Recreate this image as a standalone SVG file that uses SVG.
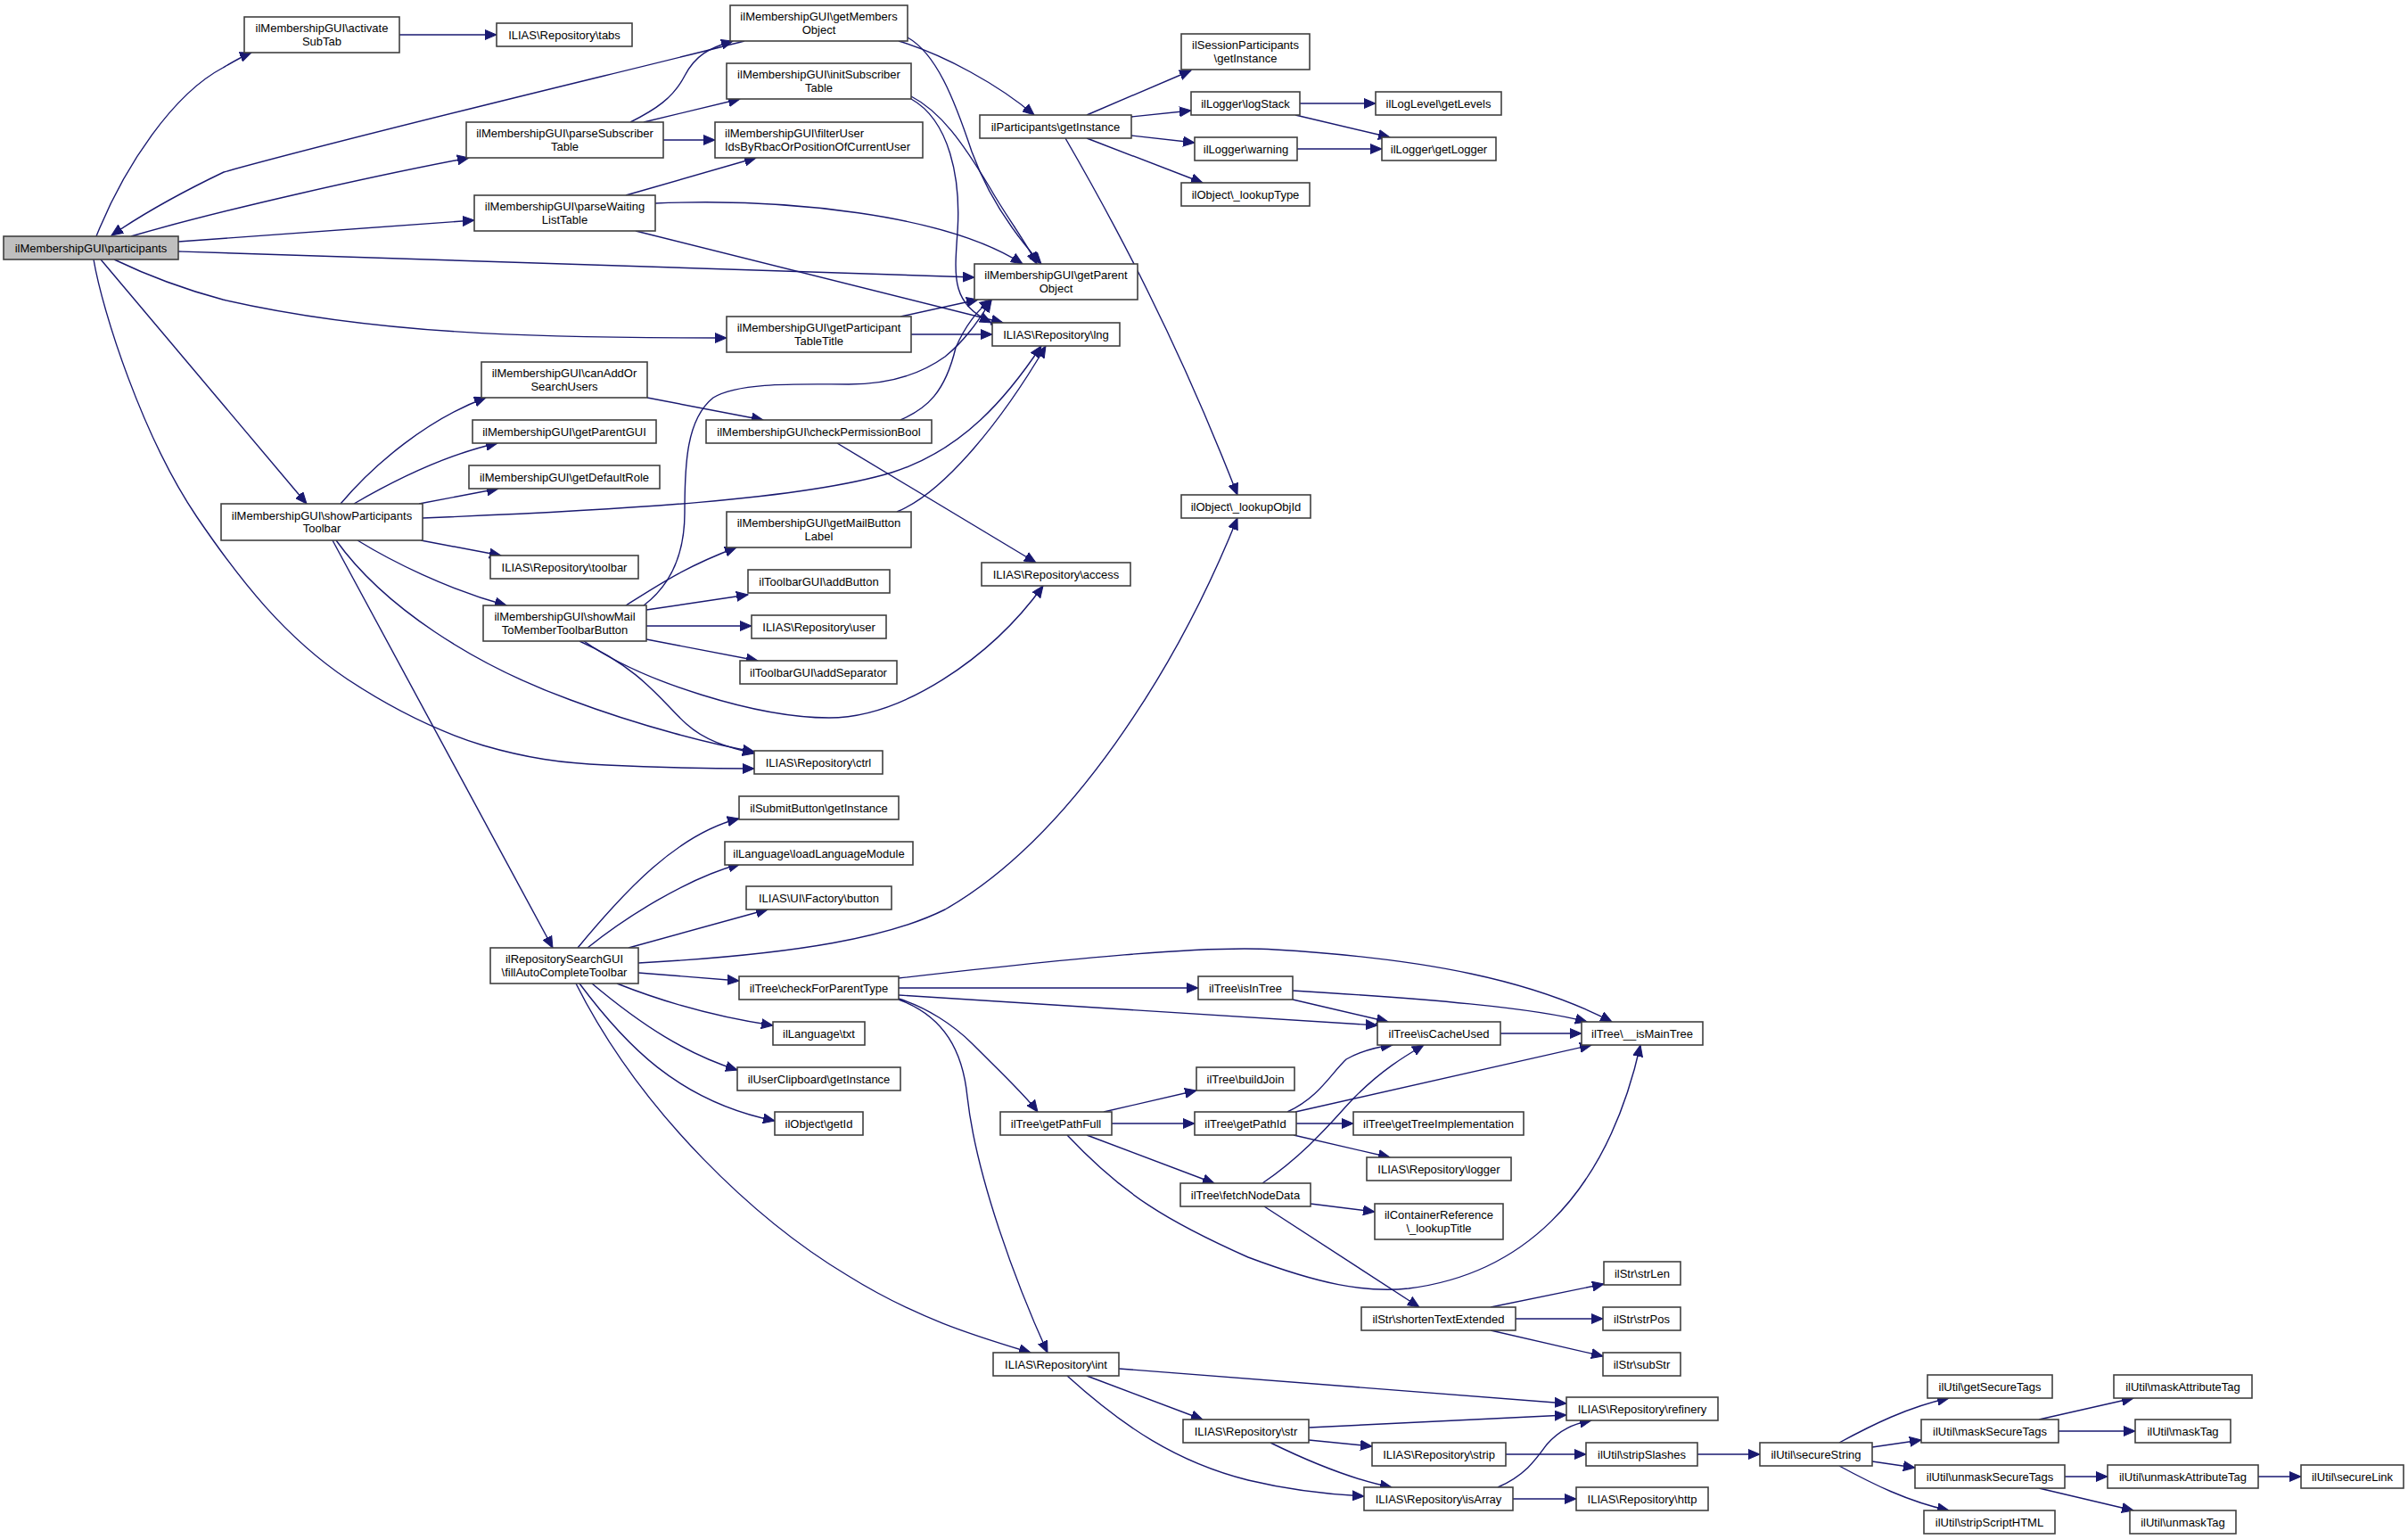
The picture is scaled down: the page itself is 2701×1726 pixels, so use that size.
<svg xmlns="http://www.w3.org/2000/svg" width="2701" height="1726" viewBox="0 0 2701 1726">
<style>
.n rect{fill:#ffffff;stroke:#404040;stroke-width:1.6}
.n.main rect{fill:#bfbfbf}
.n text{font-family:"Liberation Sans",Arial,sans-serif;font-size:13px;fill:#000;text-anchor:middle}
.n text.l{text-anchor:start}
.e path{fill:none;stroke:#191970;stroke-width:1.4;marker-end:url(#arr)}
</style>
<defs>
<marker id="arr" markerUnits="userSpaceOnUse" viewBox="0 0 14 12" markerWidth="14" markerHeight="12" refX="13" refY="6" orient="auto">
<path d="M0,0.5 L13,6 L0,11.5 z" fill="#191970" stroke="#191970" stroke-width="1"/>
</marker>
</defs>
<rect width="2701" height="1726" fill="#ffffff"/>
<g id="edges" class="e">
<path d="M108,265 C140,185 195,105 250,76 C262,69 272,63 282,59"/>
<path d="M835,46 C760,66 420,146 251,193 C205,215 160,240 125,264"/>
<path d="M147,265 C250,235 420,197 526,177"/>
<path d="M200,271 L532,247"/>
<path d="M200,282 C500,292 800,303 1093,311"/>
<path d="M128,291 C180,316 220,328 250,336 C420,375 600,379 815,379"/>
<path d="M113,291 L344,565"/>
<path d="M105,291 C115,350 160,490 221,580 C270,652 320,715 390,762 C440,795 490,820 542,836 C590,850 630,856 680,858 C740,861 800,862 846,862"/>
<path d="M448,39 L557,39"/>
<path d="M707,137 C735,123 755,110 768,85 C780,62 795,54 822,46"/>
<path d="M722,137 L830,111"/>
<path d="M744,157 L802,157"/>
<path d="M702,219 L848,177"/>
<path d="M735,228 C880,222 1060,240 1147,296"/>
<path d="M713,259 L1125,362"/>
<path d="M1008,46 C1060,62 1120,95 1160,129"/>
<path d="M1018,42 C1050,60 1070,110 1090,170 C1110,225 1140,265 1168,296"/>
<path d="M1022,108 C1055,125 1080,160 1110,210 C1130,245 1150,270 1163,296"/>
<path d="M1022,111 C1065,135 1078,200 1074,260 C1070,315 1068,340 1112,362"/>
<path d="M1010,355 L1097,336"/>
<path d="M1022,375 L1113,375"/>
<path d="M382,565 C420,520 480,470 545,446"/>
<path d="M397,565 C440,540 500,510 558,497"/>
<path d="M470,565 L559,548"/>
<path d="M474,581 C700,572 900,560 1000,530 C1080,505 1130,445 1168,388"/>
<path d="M472,606 L562,623"/>
<path d="M401,606 C440,630 500,660 568,679"/>
<path d="M377,606 C430,680 530,745 640,785 C720,815 800,835 846,843"/>
<path d="M373,606 L620,1063"/>
<path d="M726,446 L856,471"/>
<path d="M1010,471 C1040,458 1060,440 1072,390 C1085,360 1100,345 1112,336"/>
<path d="M939,497 L1162,631"/>
<path d="M1006,574 C1060,552 1125,470 1173,388"/>
<path d="M722,679 C760,650 768,610 768,575 C768,520 770,470 800,446 C830,428 900,431 952,431 C1000,431 1035,418 1060,400 C1085,380 1100,355 1112,337"/>
<path d="M702,679 C740,655 770,635 826,614"/>
<path d="M725,684 L839,667"/>
<path d="M725,702 L843,702"/>
<path d="M725,717 L850,741"/>
<path d="M655,719 C720,765 850,805 930,805 C1010,805 1110,740 1170,657"/>
<path d="M650,719 C720,750 745,790 770,812 C790,830 815,838 846,845"/>
<path d="M1219,129 L1336,79"/>
<path d="M1269,131 L1336,124"/>
<path d="M1269,152 L1340,160"/>
<path d="M1219,155 L1349,205"/>
<path d="M1195,155 C1250,250 1320,380 1388,555"/>
<path d="M1458,116 L1543,116"/>
<path d="M1453,129 L1559,154"/>
<path d="M1455,167 L1550,167"/>
<path d="M648,1063 C700,1000 760,935 829,918"/>
<path d="M659,1063 C700,1030 770,985 830,969"/>
<path d="M705,1063 L861,1020"/>
<path d="M716,1080 C900,1070 1000,1050 1060,1020 C1200,940 1320,750 1388,581"/>
<path d="M716,1091 L829,1100"/>
<path d="M692,1103 C760,1130 820,1143 867,1150"/>
<path d="M664,1103 C720,1150 770,1182 827,1200"/>
<path d="M650,1103 C700,1170 760,1235 869,1257"/>
<path d="M646,1103 C720,1250 850,1370 950,1430 C1030,1480 1100,1500 1156,1517"/>
<path d="M1008,1097 C1200,1075 1350,1060 1430,1065 C1600,1075 1720,1100 1808,1146"/>
<path d="M1008,1108 L1344,1108"/>
<path d="M1008,1116 L1545,1150"/>
<path d="M1008,1120 C1040,1130 1070,1150 1090,1170 C1120,1200 1150,1228 1164,1247"/>
<path d="M1008,1121 C1060,1140 1080,1180 1085,1230 C1095,1320 1140,1440 1175,1517"/>
<path d="M1450,1121 L1557,1146"/>
<path d="M1450,1111 C1600,1120 1720,1130 1780,1146"/>
<path d="M1683,1159 L1774,1159"/>
<path d="M1238,1247 L1342,1223"/>
<path d="M1247,1260 L1340,1260"/>
<path d="M1219,1273 L1362,1327"/>
<path d="M1197,1273 C1260,1340 1310,1370 1400,1410 C1480,1440 1530,1450 1580,1445 C1700,1430 1800,1350 1840,1172"/>
<path d="M1444,1247 C1480,1230 1492,1205 1510,1188 C1528,1178 1545,1174 1562,1172"/>
<path d="M1453,1247 L1785,1172"/>
<path d="M1454,1260 L1518,1260"/>
<path d="M1451,1273 L1559,1298"/>
<path d="M1416,1327 C1470,1290 1500,1250 1520,1230 C1550,1200 1575,1185 1597,1172"/>
<path d="M1470,1350 L1542,1359"/>
<path d="M1418,1353 L1592,1466"/>
<path d="M1672,1466 L1799,1440"/>
<path d="M1700,1479 L1798,1479"/>
<path d="M1672,1492 L1798,1521"/>
<path d="M1255,1535 L1757,1574"/>
<path d="M1219,1543 L1349,1592"/>
<path d="M1197,1543 C1260,1600 1320,1640 1400,1660 C1450,1672 1490,1676 1530,1678"/>
<path d="M1468,1601 L1757,1587"/>
<path d="M1468,1615 L1539,1622"/>
<path d="M1425,1618 C1470,1640 1520,1660 1561,1668"/>
<path d="M1689,1631 L1779,1631"/>
<path d="M1680,1668 C1710,1655 1722,1638 1735,1620 C1750,1603 1765,1597 1785,1593"/>
<path d="M1697,1681 L1768,1681"/>
<path d="M1904,1631 L1974,1631"/>
<path d="M2063,1618 C2100,1598 2140,1578 2186,1568"/>
<path d="M2100,1623 L2155,1615"/>
<path d="M2100,1639 L2148,1646"/>
<path d="M2063,1644 C2100,1664 2140,1684 2186,1694"/>
<path d="M2287,1592 L2393,1568"/>
<path d="M2309,1605 L2395,1605"/>
<path d="M2316,1656 L2364,1656"/>
<path d="M2287,1669 L2393,1694"/>
<path d="M2533,1656 L2581,1656"/>
</g>
<g id="nodes">
<g id="n-participants" class="n main"><rect x="4" y="265" width="196" height="26"/><text x="102" y="282.5">ilMembershipGUI\participants</text></g>
<g id="n-activateSubTab" class="n"><rect x="274" y="19" width="174" height="40"/><text x="361" y="36">ilMembershipGUI\activate</text><text x="361" y="50.5">SubTab</text></g>
<g id="n-tabs" class="n"><rect x="557" y="26" width="152" height="26"/><text x="633" y="43.5">ILIAS\Repository\tabs</text></g>
<g id="n-parseSubscriberTable" class="n"><rect x="523" y="137" width="221" height="40"/><text x="633.5" y="154">ilMembershipGUI\parseSubscriber</text><text x="633.5" y="168.5">Table</text></g>
<g id="n-parseWaitingListTable" class="n"><rect x="532" y="219" width="203" height="40"/><text x="633.5" y="236">ilMembershipGUI\parseWaiting</text><text x="633.5" y="250.5">ListTable</text></g>
<g id="n-canAddOrSearchUsers" class="n"><rect x="540" y="406" width="186" height="40"/><text x="633" y="423">ilMembershipGUI\canAddOr</text><text x="633" y="437.5">SearchUsers</text></g>
<g id="n-getParentGUI" class="n"><rect x="530" y="471" width="206" height="26"/><text x="633" y="488.5">ilMembershipGUI\getParentGUI</text></g>
<g id="n-getDefaultRole" class="n"><rect x="526" y="522" width="214" height="26"/><text x="633" y="539.5">ilMembershipGUI\getDefaultRole</text></g>
<g id="n-showParticipantsToolbar" class="n"><rect x="248" y="565" width="226" height="41"/><text x="361" y="582.5">ilMembershipGUI\showParticipants</text><text x="361" y="597">Toolbar</text></g>
<g id="n-getMembersObject" class="n"><rect x="819" y="6" width="199" height="40"/><text x="918.5" y="23">ilMembershipGUI\getMembers</text><text x="918.5" y="37.5">Object</text></g>
<g id="n-initSubscriberTable" class="n"><rect x="815" y="71" width="207" height="40"/><text x="918.5" y="88">ilMembershipGUI\initSubscriber</text><text x="918.5" y="102.5">Table</text></g>
<g id="n-filterUser" class="n"><rect x="802" y="137" width="233" height="40"/><text class="l" x="813" y="154">ilMembershipGUI\filterUser</text><text class="l" x="813" y="168.5">IdsByRbacOrPositionOfCurrentUser</text></g>
<g id="n-participantsGetInstance" class="n"><rect x="1099" y="129" width="170" height="26"/><text x="1184" y="146.5">ilParticipants\getInstance</text></g>
<g id="n-getParentObject" class="n"><rect x="1093" y="296" width="183" height="40"/><text x="1184.5" y="313">ilMembershipGUI\getParent</text><text x="1184.5" y="327.5">Object</text></g>
<g id="n-lng" class="n"><rect x="1113" y="362" width="143" height="26"/><text x="1184.5" y="379.5">ILIAS\Repository\lng</text></g>
<g id="n-getParticipantTableTitle" class="n"><rect x="815" y="355" width="207" height="40"/><text x="918.5" y="372">ilMembershipGUI\getParticipant</text><text x="918.5" y="386.5">TableTitle</text></g>
<g id="n-checkPermissionBool" class="n"><rect x="792" y="471" width="253" height="26"/><text x="918.5" y="488.5">ilMembershipGUI\checkPermissionBool</text></g>
<g id="n-getMailButtonLabel" class="n"><rect x="815" y="574" width="207" height="40"/><text x="918.5" y="591">ilMembershipGUI\getMailButton</text><text x="918.5" y="605.5">Label</text></g>
<g id="n-sessionParticipants" class="n"><rect x="1325" y="38" width="144" height="40"/><text x="1397" y="55">ilSessionParticipants</text><text x="1397" y="69.5">\getInstance</text></g>
<g id="n-logStack" class="n"><rect x="1336" y="103" width="122" height="26"/><text x="1397" y="120.5">ilLogger\logStack</text></g>
<g id="n-warning" class="n"><rect x="1340" y="154" width="115" height="26"/><text x="1397.5" y="171.5">ilLogger\warning</text></g>
<g id="n-lookupType" class="n"><rect x="1325" y="205" width="144" height="26"/><text x="1397" y="222.5">ilObject\_lookupType</text></g>
<g id="n-getLevels" class="n"><rect x="1543" y="103" width="141" height="26"/><text x="1613.5" y="120.5">ilLogLevel\getLevels</text></g>
<g id="n-getLogger" class="n"><rect x="1550" y="154" width="128" height="26"/><text x="1614" y="171.5">ilLogger\getLogger</text></g>
<g id="n-lookupObjId" class="n"><rect x="1325" y="555" width="145" height="26"/><text x="1397.5" y="572.5">ilObject\_lookupObjId</text></g>
<g id="n-toolbar" class="n"><rect x="550" y="623" width="166" height="26"/><text x="633" y="640.5">ILIAS\Repository\toolbar</text></g>
<g id="n-showMailToMemberToolbarButton" class="n"><rect x="542" y="679" width="183" height="40"/><text x="633.5" y="696">ilMembershipGUI\showMail</text><text x="633.5" y="710.5">ToMemberToolbarButton</text></g>
<g id="n-addButton" class="n"><rect x="839" y="639" width="159" height="26"/><text x="918.5" y="656.5">ilToolbarGUI\addButton</text></g>
<g id="n-user" class="n"><rect x="843" y="690" width="151" height="26"/><text x="918.5" y="707.5">ILIAS\Repository\user</text></g>
<g id="n-addSeparator" class="n"><rect x="830" y="741" width="176" height="26"/><text x="918" y="758.5">ilToolbarGUI\addSeparator</text></g>
<g id="n-access" class="n"><rect x="1101" y="631" width="167" height="26"/><text x="1184.5" y="648.5">ILIAS\Repository\access</text></g>
<g id="n-ctrl" class="n"><rect x="846" y="842" width="144" height="26"/><text x="918" y="859.5">ILIAS\Repository\ctrl</text></g>
<g id="n-submitButton" class="n"><rect x="829" y="893" width="179" height="26"/><text x="918.5" y="910.5">ilSubmitButton\getInstance</text></g>
<g id="n-loadLanguageModule" class="n"><rect x="813" y="944" width="211" height="26"/><text x="918.5" y="961.5">ilLanguage\loadLanguageModule</text></g>
<g id="n-uiButton" class="n"><rect x="837" y="994" width="163" height="26"/><text x="918.5" y="1011.5">ILIAS\UI\Factory\button</text></g>
<g id="n-fillAutoCompleteToolbar" class="n"><rect x="550" y="1063" width="166" height="40"/><text x="633" y="1080">ilRepositorySearchGUI</text><text x="633" y="1094.5">\fillAutoCompleteToolbar</text></g>
<g id="n-checkForParentType" class="n"><rect x="829" y="1095" width="179" height="26"/><text x="918.5" y="1112.5">ilTree\checkForParentType</text></g>
<g id="n-txt" class="n"><rect x="867" y="1146" width="103" height="26"/><text x="918.5" y="1163.5">ilLanguage\txt</text></g>
<g id="n-userClipboard" class="n"><rect x="827" y="1197" width="183" height="26"/><text x="918.5" y="1214.5">ilUserClipboard\getInstance</text></g>
<g id="n-getId" class="n"><rect x="869" y="1247" width="99" height="26"/><text x="918.5" y="1264.5">ilObject\getId</text></g>
<g id="n-getPathFull" class="n"><rect x="1122" y="1247" width="125" height="26"/><text x="1184.5" y="1264.5">ilTree\getPathFull</text></g>
<g id="n-int" class="n"><rect x="1114" y="1517" width="141" height="26"/><text x="1184.5" y="1534.5">ILIAS\Repository\int</text></g>
<g id="n-isInTree" class="n"><rect x="1344" y="1095" width="106" height="26"/><text x="1397" y="1112.5">ilTree\isInTree</text></g>
<g id="n-isCacheUsed" class="n"><rect x="1545" y="1146" width="138" height="26"/><text x="1614" y="1163.5">ilTree\isCacheUsed</text></g>
<g id="n-isMainTree" class="n"><rect x="1774" y="1146" width="136" height="26"/><text x="1842" y="1163.5">ilTree\__isMainTree</text></g>
<g id="n-buildJoin" class="n"><rect x="1342" y="1197" width="110" height="26"/><text x="1397" y="1214.5">ilTree\buildJoin</text></g>
<g id="n-getPathId" class="n"><rect x="1340" y="1247" width="114" height="26"/><text x="1397" y="1264.5">ilTree\getPathId</text></g>
<g id="n-getTreeImplementation" class="n"><rect x="1518" y="1247" width="191" height="26"/><text x="1613.5" y="1264.5">ilTree\getTreeImplementation</text></g>
<g id="n-logger" class="n"><rect x="1533" y="1298" width="162" height="26"/><text x="1614" y="1315.5">ILIAS\Repository\logger</text></g>
<g id="n-fetchNodeData" class="n"><rect x="1324" y="1327" width="146" height="26"/><text x="1397" y="1344.5">ilTree\fetchNodeData</text></g>
<g id="n-lookupTitle" class="n"><rect x="1542" y="1350" width="144" height="40"/><text x="1614" y="1367">ilContainerReference</text><text x="1614" y="1381.5">\_lookupTitle</text></g>
<g id="n-strLen" class="n"><rect x="1799" y="1415" width="86" height="26"/><text x="1842" y="1432.5">ilStr\strLen</text></g>
<g id="n-shortenTextExtended" class="n"><rect x="1527" y="1466" width="173" height="26"/><text x="1613.5" y="1483.5">ilStr\shortenTextExtended</text></g>
<g id="n-strPos" class="n"><rect x="1798" y="1466" width="87" height="26"/><text x="1841.5" y="1483.5">ilStr\strPos</text></g>
<g id="n-subStr" class="n"><rect x="1798" y="1517" width="87" height="26"/><text x="1841.5" y="1534.5">ilStr\subStr</text></g>
<g id="n-refinery" class="n"><rect x="1757" y="1567" width="170" height="26"/><text x="1842" y="1584.5">ILIAS\Repository\refinery</text></g>
<g id="n-str" class="n"><rect x="1327" y="1592" width="141" height="26"/><text x="1397.5" y="1609.5">ILIAS\Repository\str</text></g>
<g id="n-strip" class="n"><rect x="1539" y="1618" width="150" height="26"/><text x="1614" y="1635.5">ILIAS\Repository\strip</text></g>
<g id="n-stripSlashes" class="n"><rect x="1779" y="1618" width="125" height="26"/><text x="1841.5" y="1635.5">ilUtil\stripSlashes</text></g>
<g id="n-isArray" class="n"><rect x="1530" y="1668" width="167" height="26"/><text x="1613.5" y="1685.5">ILIAS\Repository\isArray</text></g>
<g id="n-http" class="n"><rect x="1768" y="1668" width="148" height="26"/><text x="1842" y="1685.5">ILIAS\Repository\http</text></g>
<g id="n-secureString" class="n"><rect x="1974" y="1618" width="126" height="26"/><text x="2037" y="1635.5">ilUtil\secureString</text></g>
<g id="n-getSecureTags" class="n"><rect x="2162" y="1542" width="140" height="26"/><text x="2232" y="1559.5">ilUtil\getSecureTags</text></g>
<g id="n-maskSecureTags" class="n"><rect x="2155" y="1592" width="154" height="26"/><text x="2232" y="1609.5">ilUtil\maskSecureTags</text></g>
<g id="n-unmaskSecureTags" class="n"><rect x="2148" y="1643" width="168" height="26"/><text x="2232" y="1660.5">ilUtil\unmaskSecureTags</text></g>
<g id="n-stripScriptHTML" class="n"><rect x="2158" y="1694" width="147" height="26"/><text x="2231.5" y="1711.5">ilUtil\stripScriptHTML</text></g>
<g id="n-maskAttributeTag" class="n"><rect x="2371" y="1542" width="155" height="26"/><text x="2448.5" y="1559.5">ilUtil\maskAttributeTag</text></g>
<g id="n-maskTag" class="n"><rect x="2395" y="1592" width="107" height="26"/><text x="2448.5" y="1609.5">ilUtil\maskTag</text></g>
<g id="n-unmaskAttributeTag" class="n"><rect x="2364" y="1643" width="169" height="26"/><text x="2448.5" y="1660.5">ilUtil\unmaskAttributeTag</text></g>
<g id="n-secureLink" class="n"><rect x="2581" y="1643" width="115" height="26"/><text x="2638.5" y="1660.5">ilUtil\secureLink</text></g>
<g id="n-unmaskTag" class="n"><rect x="2389" y="1694" width="119" height="26"/><text x="2448.5" y="1711.5">ilUtil\unmaskTag</text></g>
</g>
</svg>
